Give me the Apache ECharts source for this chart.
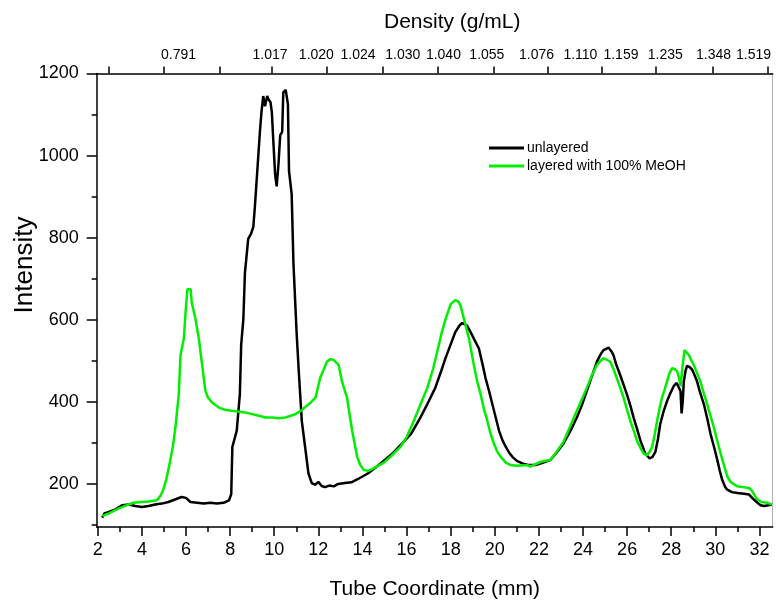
<!DOCTYPE html>
<html>
<head>
<meta charset="utf-8">
<script src="https://cdn.jsdelivr.net/npm/echarts@6/dist/echarts.min.js"></script>
<style>
html,body{margin:0;padding:0;background:#fff;}
#chart{width:776px;height:605px;}
</style>
</head>
<body>
<div id="chart"></div>
<script>
// ---- data ----
const seriesNames = ['unlayered', 'layered with 100% MeOH'];

const unlayered = [
[2.2,118],[2.3,128],[2.5,132],[2.8,138],[3.1,148],[3.4,150],[3.7,146],[4.0,144],[4.3,146],[4.6,150],[4.9,152],[5.2,156],[5.5,162],[5.8,168],[6.0,166],[6.2,156],[6.5,154],[6.8,152],[7.1,154],[7.4,152],[7.7,154],[7.95,160],[8.05,175],[8.1,290],[8.3,330],[8.44,418],[8.5,538],[8.6,602],[8.67,714],[8.82,797],[8.95,810],[9.05,826],[9.12,874],[9.27,994],[9.35,1058],[9.42,1106],[9.5,1145],[9.58,1120],[9.62,1130],[9.68,1145],[9.73,1138],[9.83,1130],[9.89,1106],[9.96,1034],[10.04,953],[10.11,925],[10.19,978],[10.27,1050],[10.36,1058],[10.41,1154],[10.52,1160],[10.62,1125],[10.67,962],[10.79,906],[10.87,738],[11.02,562],[11.13,458],[11.25,353],[11.40,290],[11.55,226],[11.7,202],[11.85,198],[12.0,205],[12.15,195],[12.3,192],[12.5,196],[12.7,194],[12.9,200],[13.2,202],[13.5,204],[13.8,212],[14.0,218],[14.26,226],[14.6,240],[15.0,258],[15.4,276],[15.79,298],[16.2,322],[16.55,354],[16.9,390],[17.3,434],[17.55,472],[17.76,506],[18.0,540],[18.21,570],[18.4,586],[18.52,592],[18.74,586],[18.9,570],[19.05,554],[19.28,530],[19.45,490],[19.58,458],[19.75,424],[19.89,394],[20.05,360],[20.19,330],[20.35,306],[20.5,290],[20.65,276],[20.8,266],[21.0,256],[21.25,250],[21.5,246],[21.86,246],[22.2,252],[22.51,258],[22.8,276],[23.11,298],[23.4,326],[23.72,362],[23.95,392],[24.17,426],[24.4,462],[24.63,498],[24.8,516],[24.93,526],[25.16,532],[25.3,522],[25.38,514],[25.5,492],[25.68,466],[25.85,440],[25.99,418],[26.15,390],[26.29,362],[26.45,334],[26.6,306],[26.82,274],[27.02,262],[27.15,266],[27.28,278],[27.4,310],[27.5,346],[27.65,376],[27.81,402],[27.95,420],[28.11,438],[28.25,446],[28.34,450],[28.42,426],[28.47,372],[28.52,400],[28.57,450],[28.65,476],[28.72,488],[28.85,484],[28.95,478],[29.05,466],[29.17,450],[29.3,424],[29.48,394],[29.63,360],[29.78,322],[29.95,288],[30.09,258],[30.2,232],[30.31,210],[30.45,192],[30.54,186],[30.75,180],[31.0,178],[31.3,176],[31.53,174],[31.7,164],[31.91,154],[32.05,148],[32.21,146],[32.4,148],[32.55,150]
];

const layeredMeOH = [
[2.2,122],[2.5,128],[2.86,138],[3.2,146],[3.61,154],[4.0,156],[4.3,157],[4.68,160],[4.85,172],[4.97,186],[5.1,210],[5.26,250],[5.4,290],[5.52,338],[5.67,418],[5.75,514],[5.9,554],[5.98,618],[6.06,674],[6.12,678],[6.21,674],[6.26,642],[6.43,602],[6.58,554],[6.73,490],[6.88,426],[7.0,410],[7.19,398],[7.49,386],[7.8,380],[8.09,378],[8.4,376],[8.7,374],[9.0,370],[9.3,366],[9.6,362],[9.91,362],[10.2,360],[10.51,362],[10.75,366],[10.96,370],[11.2,378],[11.42,388],[11.65,398],[11.87,410],[12.08,458],[12.39,498],[12.55,504],[12.69,502],[12.92,490],[13.07,450],[13.3,410],[13.53,330],[13.76,266],[13.9,246],[14.06,234],[14.25,232],[14.44,236],[14.7,244],[14.97,252],[15.3,268],[15.72,290],[16.0,314],[16.33,354],[16.6,390],[16.94,434],[17.2,480],[17.39,522],[17.6,570],[17.77,602],[18.0,638],[18.22,648],[18.35,644],[18.45,634],[18.6,602],[18.83,554],[19.05,490],[19.2,450],[19.36,418],[19.5,384],[19.66,354],[19.8,324],[19.96,298],[20.1,280],[20.27,266],[20.5,252],[20.72,246],[21.0,244],[21.48,246],[21.6,242],[22.09,254],[22.51,258],[22.8,278],[23.11,302],[23.4,338],[23.72,378],[23.95,406],[24.17,434],[24.4,464],[24.63,490],[24.8,500],[24.93,506],[25.1,502],[25.23,498],[25.38,480],[25.53,458],[25.7,432],[25.84,410],[26.0,380],[26.14,354],[26.3,330],[26.44,306],[26.6,288],[26.75,274],[26.9,270],[27.02,278],[27.13,290],[27.25,320],[27.36,354],[27.47,384],[27.58,410],[27.7,430],[27.81,450],[27.92,470],[28.04,482],[28.15,480],[28.27,474],[28.36,456],[28.42,438],[28.5,480],[28.6,526],[28.7,520],[28.8,514],[28.9,502],[29.02,490],[29.17,470],[29.32,450],[29.48,420],[29.63,394],[29.78,366],[29.93,338],[30.08,306],[30.24,274],[30.4,244],[30.54,218],[30.7,204],[31.0,194],[31.3,192],[31.53,190],[31.65,184],[31.8,170],[31.91,162],[32.1,156],[32.36,154],[32.55,150]
];

// tick labels
const tubeTicks = [2,4,6,8,10,12,14,16,18,20,22,24,26,28,30,32];
const tubeMinorTicks = [3,5,7,9,11,13,15,17,19,21,23,25,27,29,31];
const intensityTicks = [200,400,600,800,1000,1200];
const intensityMinorTicks = [100,300,500,700,900,1100];
// density scale (top axis): tick positions and label positions in tube coordinate (mm)
const densityTickPos = [2.48,4.97,7.51,9.89,12.40,14.93,17.42,19.94,22.40,24.83,27.32,29.86,32.39];
const densityLabelPos = [5.66,9.81,11.91,13.80,15.83,17.67,19.64,21.89,23.88,25.72,27.73,29.92,31.73];
const densityLabels = ['0.791','1.017','1.020','1.024','1.030','1.040','1.055','1.076','1.110','1.159','1.235','1.348','1.519'];

// ---- chart ----
const FONT = '"Liberation Sans", Arial, sans-serif';
const X_MIN = 1.95, X_MAX = 32.6, Y_MIN = 95, Y_MAX = 1200;

function densityFormatter(v) {
  let best = 0, bd = Infinity;
  densityLabelPos.forEach((p, i) => { const d = Math.abs(p - v); if (d < bd) { bd = d; best = i; } });
  return densityLabels[best];
}
const plain = v => String(v);

const chart = echarts.init(document.getElementById('chart'), null, {renderer: 'canvas'});
const option = {
  animation: false,
  backgroundColor: '#ffffff',
  textStyle: {fontFamily: FONT},
  title: {
    text: 'Density (g/mL)',
    left: 379, top: 7,
    textStyle: {fontFamily: FONT, fontSize: 21, fontWeight: 'normal', color: '#000'}
  },
  legend: {
    orient: 'vertical',
    left: 484, top: 136,
    icon: 'rect',
    itemWidth: 35, itemHeight: 3,
    itemGap: 4,
    data: seriesNames,
    textStyle: {fontFamily: FONT, fontSize: 14, color: '#000', padding: [0,0,0,-2]}
  },
  graphic: [{
    type: 'text',
    x: 25, y: 265,
    rotation: Math.PI / 2,
    style: {text: 'Intensity', font: '26px ' + FONT, fill: '#000', align: 'center', verticalAlign: 'middle'}
  }],
  grid: {left: 96.7, top: 73.5, right: 3.3, bottom: 70.7},
  xAxis: [
    {
      type: 'value', position: 'bottom', min: X_MIN, max: X_MAX,
      name: 'Tube Coordinate (mm)', nameLocation: 'middle', nameGap: 52,
      nameTextStyle: {fontFamily: FONT, fontSize: 21, color: '#000'},
      axisLine: {onZero: false, lineStyle: {color: '#000', width: 1.5}},
      axisTick: {customValues: tubeTicks, length: 9, lineStyle: {color: '#000', width: 1.5}},
      axisLabel: {customValues: tubeTicks, formatter: plain, fontSize: 18, color: '#000', margin: 14, fontFamily: FONT},
      splitLine: {show: false}
    },
    {
      type: 'value', position: 'bottom', min: X_MIN, max: X_MAX,
      axisLine: {show: false, onZero: false},
      axisTick: {customValues: tubeMinorTicks, length: 5, lineStyle: {color: '#000', width: 1.5}},
      axisLabel: {show: false},
      splitLine: {show: false}
    },
    {
      type: 'value', position: 'top', min: X_MIN, max: X_MAX,
      axisLine: {onZero: false, lineStyle: {color: '#000', width: 1.5}},
      axisTick: {customValues: densityTickPos, length: 7, lineStyle: {color: '#000', width: 1.5}},
      axisLabel: {show: false},
      splitLine: {show: false}
    },
    {
      type: 'value', position: 'top', min: X_MIN, max: X_MAX,
      axisLine: {show: false, onZero: false},
      axisTick: {show: false},
      axisLabel: {customValues: densityLabelPos, formatter: densityFormatter, fontSize: 14, color: '#000', margin: 11, fontFamily: FONT},
      splitLine: {show: false}
    }
  ],
  yAxis: [
    {
      type: 'value', position: 'left', min: Y_MIN, max: Y_MAX,
      axisLine: {onZero: false, lineStyle: {color: '#000', width: 1.5}},
      axisTick: {customValues: intensityTicks, length: 10, lineStyle: {color: '#000', width: 1.5}},
      axisLabel: {customValues: intensityTicks, formatter: plain, fontSize: 18, color: '#000', margin: 18, fontFamily: FONT},
      splitLine: {show: false}
    },
    {
      type: 'value', position: 'left', min: Y_MIN, max: Y_MAX,
      axisLine: {show: false, onZero: false},
      axisTick: {customValues: intensityMinorTicks, length: 5, lineStyle: {color: '#000', width: 1.5}},
      axisLabel: {show: false},
      splitLine: {show: false}
    },
    {
      type: 'value', position: 'right', min: Y_MIN, max: Y_MAX,
      axisLine: {show: true, onZero: false, lineStyle: {color: '#b0b0b0', width: 1}},
      axisTick: {show: false},
      axisLabel: {show: false},
      splitLine: {show: false}
    }
  ],
  series: [
    {
      name: seriesNames[0], type: 'line', xAxisIndex: 0, yAxisIndex: 0,
      data: unlayered, showSymbol: false, symbol: 'none',
      lineStyle: {color: '#000000', width: 2.5}, itemStyle: {color: '#000000'}
    },
    {
      name: seriesNames[1], type: 'line', xAxisIndex: 0, yAxisIndex: 0,
      data: layeredMeOH, showSymbol: false, symbol: 'none',
      lineStyle: {color: '#00ee00', width: 2.5}, itemStyle: {color: '#00ee00'}
    }
  ]
};
chart.setOption(option);
</script>
</body>
</html>
